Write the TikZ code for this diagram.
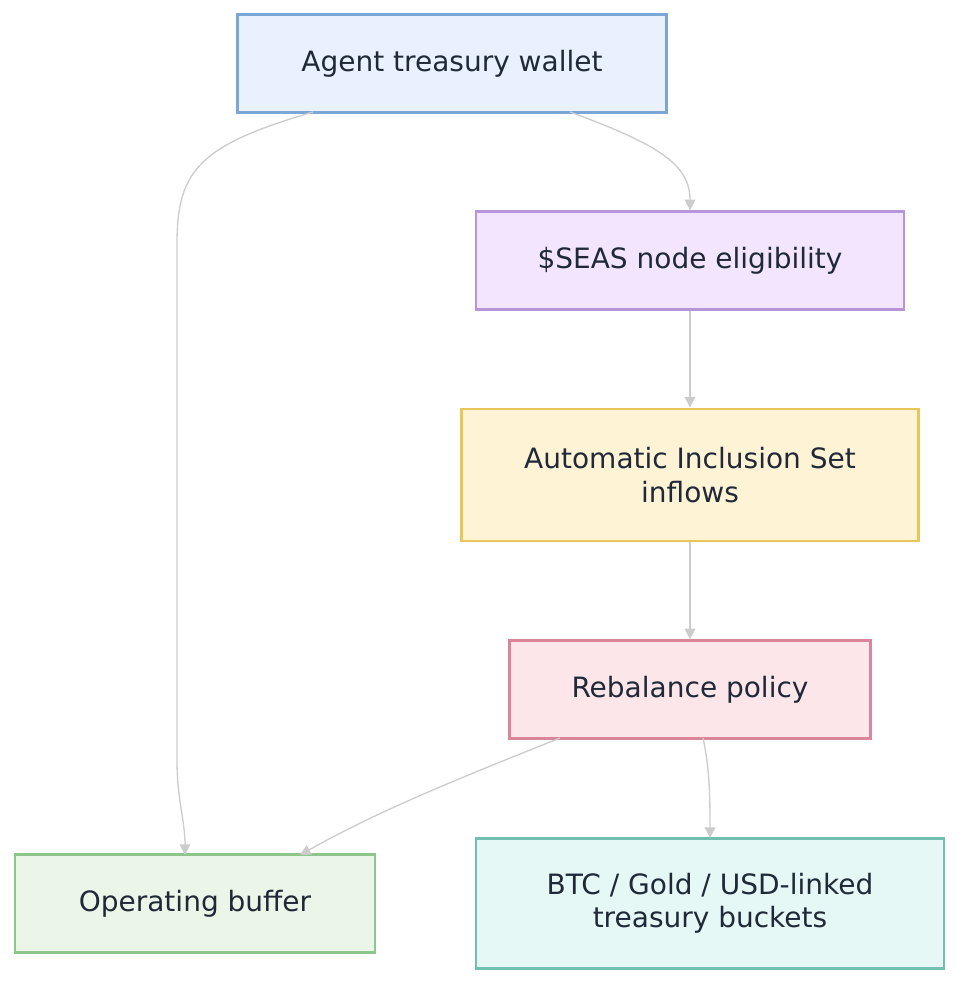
\documentclass[tikz,border=0pt]{standalone}
\usepackage{fontspec}
\setmainfont{DejaVu Sans}
\usetikzlibrary{arrows.meta,positioning}

\definecolor{lineGray}{HTML}{CCCCCC}
\definecolor{textDark}{HTML}{1F2937}
\definecolor{walletFill}{HTML}{E8F1FD}\definecolor{walletLine}{HTML}{7BA7D7}
\definecolor{seasFill}{HTML}{F3E5FD}\definecolor{seasLine}{HTML}{B895D9}
\definecolor{inflowFill}{HTML}{FFF3D6}\definecolor{inflowLine}{HTML}{E8C75A}
\definecolor{rebalFill}{HTML}{FDE6EA}\definecolor{rebalLine}{HTML}{D9869A}
\definecolor{bufferFill}{HTML}{ECF6E8}\definecolor{bufferLine}{HTML}{8DC68A}
\definecolor{bucketFill}{HTML}{E6F8F6}\definecolor{bucketLine}{HTML}{72BFB0}

\begin{document}
\begin{tikzpicture}[x=0.75pt,y=-0.75pt]
            \tikzset{box/.style={draw,line width=2.2pt,text=textDark,align=center,
                    font=\fontsize{21}{25}\selectfont,inner sep=0pt},
                flow/.style={draw=lineGray,line width=1pt,-{Triangle[length=8pt,width=8pt]}}}
            \useasboundingbox (0,0) rectangle (962,986);

            \node[box, fill=walletFill, draw=walletLine,
                  minimum width=322pt, minimum height=73pt] (wallet) at (452,63.5) {Agent treasury wallet};
            \node[box, fill=seasFill, draw=seasLine,
                  minimum width=321pt, minimum height=73pt] (seas) at (690,260.5) {\$SEAS node eligibility};
            \node[box, fill=inflowFill, draw=inflowLine,
                  minimum width=343pt, minimum height=99pt] (inflow) at (690,475) {Automatic Inclusion Set\\inflows};
            \node[box, fill=rebalFill, draw=rebalLine,
                  minimum width=271pt, minimum height=73pt] (rebal) at (690,689.5) {Rebalance policy};
            \node[box, fill=bufferFill, draw=bufferLine,
                  minimum width=270pt, minimum height=73pt] (buffer) at (195,903.5) {Operating buffer};
            \node[box, fill=bucketFill, draw=bucketLine,
                  minimum width=351pt, minimum height=98pt] (buckets) at (710,903.5) {BTC / Gold / USD-linked\\treasury buckets};

            \coordinate (wl) at (313,112);
            \coordinate (wr) at (570,112);
            \coordinate (rl) at (560,738);
            \coordinate (rr) at (703,738);
            \coordinate (bt) at (185,855);
            \coordinate (bk) at (300,855);
            \coordinate (kt) at (710,838);

            \draw[flow] (wl) .. controls (200,145) and (178,170) .. (177,240)
                -- (177,760) .. controls (177,800) and (185,820) .. (bt);
            \draw[flow] (wr) .. controls (660,145) and (690,165) .. (seas.north);
            \draw[flow] (seas) -- (inflow);
            \draw[flow] (inflow) -- (rebal);
            \draw[flow] (rl) .. controls (460,778) and (380,810) .. (bk);
            \draw[flow] (rr) .. controls (710,770) and (710,800) .. (kt);
        \end{tikzpicture}
\end{document}
